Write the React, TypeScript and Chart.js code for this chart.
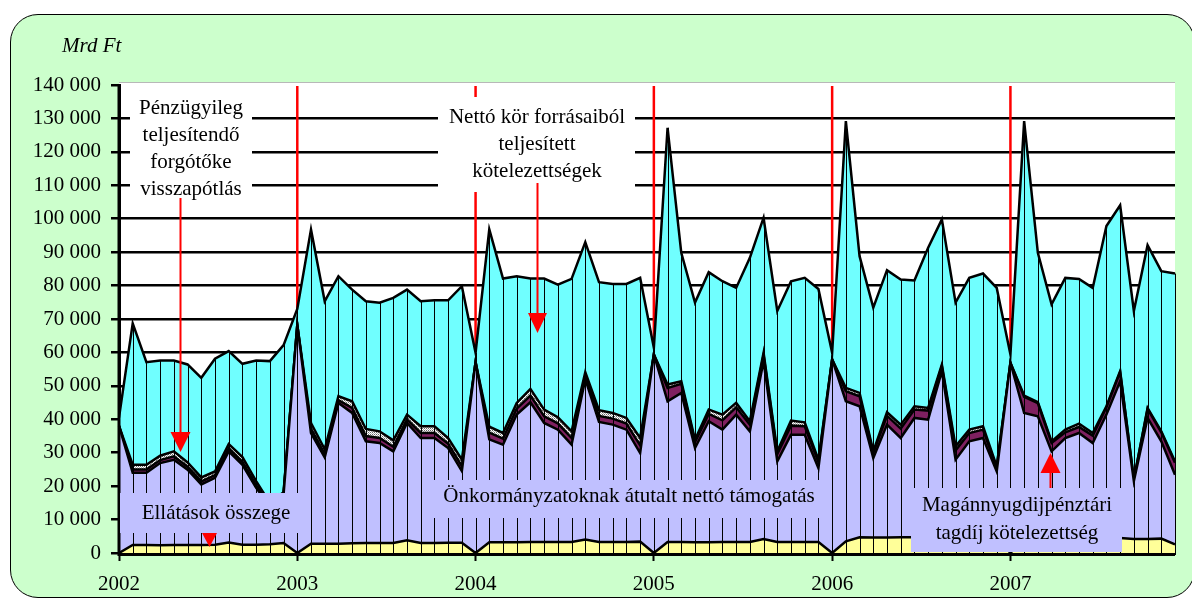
import React, { useEffect, useRef } from 'react';
import { Chart, registerables } from 'chart.js';

Chart.register(...registerables);

const FONT = '"Liberation Serif", "Times New Roman", serif';

// 13 points per year: a year-opening point, then 12 months
const years = ['2002', '2003', '2004', '2005', '2006', '2007'];
const categories: string[] = years.flatMap((y) => [y, '', '', '', '', '', '', '', '', '', '', '', '']);

const yTickLabels = ['0', '10 000', '20 000', '30 000', '40 000', '50 000', '60 000', '70 000', '80 000', '90 000', '100 000', '110 000', '120 000', '130 000', '140 000'];

// Ellátások összege
const ellatasok = [
  0, 2400, 2400, 2300, 2400, 2400, 2400, 2500, 3100, 2500, 2500, 2600, 3000,
  0, 2800, 2800, 2800, 2900, 3000, 3000, 3000, 3800, 3000, 3000, 3100, 3100,
  0, 3200, 3200, 3200, 3300, 3300, 3300, 3300, 4000, 3300, 3300, 3300, 3400,
  0, 3300, 3300, 3200, 3200, 3300, 3300, 3300, 4200, 3300, 3300, 3300, 3300,
  0, 3500, 4700, 4600, 4600, 4700, 4700, 4800, 5000, 4700, 4700, 4700, 4700,
  0, 4500, 4500, 4500, 4500, 4500, 4500, 4500, 4500, 4200, 4200, 4300, 2600,
];

// Önkormányzatoknak átutalt nettó támogatás
const onkormanyzat = [
  38000, 21600, 21600, 24600, 25500, 22500, 18100, 20000, 27300, 23900, 17000, 11400, 14500,
  68200, 33100, 25800, 42100, 39000, 30400, 29900, 27400, 35100, 31400, 31400, 28300, 21400,
  57100, 30800, 29200, 38200, 41800, 35600, 33600, 29100, 48000, 35900, 35100, 33600, 26500,
  59400, 42100, 44600, 28200, 36200, 33600, 38100, 33100, 53200, 24100, 32100, 32100, 22100,
  57900, 41900, 39200, 23800, 33800, 29700, 35700, 35100, 49400, 23200, 28700, 29700, 19700,
  56900, 37400, 36400, 25900, 29900, 31400, 28400, 36900, 46900, 17300, 36200, 29100, 20800,
];

// Magánnyugdíjpénztári tagdíj kötelezettség
const magannyugdij = [
  0, 1000, 1000, 900, 1000, 900, 900, 800, 900, 900, 800, 500, 400,
  0, 1300, 1000, 800, 1500, 1600, 1500, 1400, 1100, 1500, 1500, 1300, 1500,
  0, 2000, 1800, 1800, 2000, 2000, 1900, 2000, 1000, 1800, 1800, 1800, 2300,
  0, 4000, 2700, 1800, 2200, 2800, 2200, 2000, 1800, 2200, 2700, 2500, 1800,
  0, 3000, 3000, 1500, 2700, 2800, 2500, 2700, 1500, 2800, 2500, 2500, 1100,
  0, 4800, 3900, 2500, 1700, 1800, 2200, 2200, 2700, 400, 2700, 2700, 3600,
];

// Pénzügyileg teljesítendő forgótőke visszapótlás
const forgotoke = [
  0, 1400, 1400, 1300, 1500, 1300, 1200, 1100, 1300, 1400, 1200, 500, 300,
  0, 1700, 1400, 1200, 2000, 2100, 2000, 1900, 1400, 2000, 2000, 1700, 1900,
  0, 1800, 1700, 1700, 2000, 2000, 1800, 2000, 1100, 1700, 1700, 1700, 2200,
  0, 1000, 800, 700, 1300, 1700, 1300, 1000, 700, 800, 1500, 1200, 700,
  0, 1000, 1000, 500, 1000, 1200, 1000, 800, 500, 1200, 1000, 1000, 400,
  0, 400, 300, 500, 800, 1000, 800, 300, 300, 100, 300, 300, 400,
];

// Nettó kör forrásaiból teljesített kötelezettségek
const nettoKor = [
  2500, 42300, 30700, 28500, 27200, 29300, 29800, 33700, 27800, 27900, 36100, 42400, 44000,
  4800, 57900, 44300, 35900, 33400, 38200, 38500, 42600, 37400, 37400, 37700, 41200, 51900,
  2800, 59000, 46200, 37900, 33000, 39200, 39700, 45600, 38900, 38300, 38600, 40100, 47900,
  2000, 76800, 38400, 41000, 41100, 39900, 34400, 48900, 40400, 42000, 41700, 43200, 51100,
  2000, 79800, 40900, 43000, 42500, 43400, 37600, 47900, 43400, 43000, 45400, 45700, 53400,
  2500, 82100, 44700, 41000, 45400, 43300, 43400, 53900, 49600, 50400, 48700, 47900, 56200,
];

const COLORS = {
  yellow: '#FFFF99',
  lavender: '#C0C0FF',
  purple: '#7F2060',
  cyan: '#70FFFF',
  green: '#CCFFCC',
  red: '#FF0000',
};

function makePattern(): CanvasPattern | string {
  const c = document.createElement('canvas');
  c.width = 2;
  c.height = 2;
  const g = c.getContext('2d');
  if (!g) return '#bbbbbb';
  g.fillStyle = '#ffffff';
  g.fillRect(0, 0, 2, 2);
  g.fillStyle = '#6a6a6a';
  g.fillRect(0, 0, 1, 1);
  g.fillStyle = '#b0b0b0';
  g.fillRect(1, 1, 1, 1);
  return g.createPattern(c, 'repeat') || '#bbbbbb';
}

function textLines(ctx: CanvasRenderingContext2D, lines: string[], cx: number, firstBaseline: number, step: number) {
  lines.forEach((t, i) => ctx.fillText(t, cx, firstBaseline + i * step));
}

function arrow(ctx: CanvasRenderingContext2D, x: number, y0: number, yBase: number, yTip: number, half: number) {
  ctx.strokeStyle = COLORS.red;
  ctx.fillStyle = COLORS.red;
  ctx.lineWidth = 2;
  if (y0 !== yBase) {
    ctx.beginPath();
    ctx.moveTo(x, y0);
    ctx.lineTo(x, yBase);
    ctx.stroke();
  }
  ctx.beginPath();
  ctx.moveTo(x - half, yBase);
  ctx.lineTo(x + half, yBase);
  ctx.lineTo(x, yTip);
  ctx.closePath();
  ctx.fill();
}

const decor = {
  id: 'decor',
  beforeDraw(chart: any) {
    const { ctx, chartArea: a } = chart;
    ctx.save();
    ctx.fillStyle = '#ffffff';
    ctx.fillRect(a.left, a.top - 2, a.right - a.left, a.bottom - a.top + 2);
    ctx.strokeStyle = '#b8b8b8';
    ctx.lineWidth = 1;
    ctx.beginPath();
    ctx.moveTo(a.left, a.top - 2.5);
    ctx.lineTo(a.right, a.top - 2.5);
    ctx.stroke();
    ctx.restore();
  },
  beforeDatasetsDraw(chart: any) {
    const { ctx } = chart;
    const a = chart.chartArea;
    const top = chart.getDatasetMeta(chart.data.datasets.length - 1);
    ctx.save();
    ctx.strokeStyle = COLORS.red;
    ctx.lineWidth = 2.5;
    categories.forEach((lab, i) => {
      if (!lab || i === 0) return;
      const pt = top.data[i];
      ctx.beginPath();
      ctx.moveTo(pt.x, a.top + 1);
      ctx.lineTo(pt.x, pt.y);
      ctx.stroke();
    });
    ctx.restore();
  },
  afterDatasetsDraw(chart: any) {
    const { ctx } = chart;
    const a = chart.chartArea;
    const top = chart.getDatasetMeta(chart.data.datasets.length - 1);
    const yZero = chart.scales.y.getPixelForValue(0);
    ctx.save();
    ctx.strokeStyle = '#000';
    ctx.lineWidth = 1;
    top.data.forEach((pt: any) => {
      const x = Math.round(pt.x) + 0.5;
      ctx.beginPath();
      ctx.moveTo(x, pt.y);
      ctx.lineTo(x, yZero);
      ctx.stroke();
    });
    ctx.lineWidth = 3;
    ctx.beginPath();
    ctx.moveTo(a.left, a.top);
    ctx.lineTo(a.left, yZero + 1.5);
    ctx.lineTo(a.right, yZero + 1.5);
    ctx.stroke();
    ctx.restore();
  },
  afterDraw(chart: any) {
    const { ctx } = chart;
    ctx.save();
    // unit label
    ctx.fillStyle = '#000';
    ctx.font = `italic 21px ${FONT}`;
    ctx.textAlign = 'left';
    ctx.textBaseline = 'alphabetic';
    ctx.fillText('Mrd Ft', 62, 52);

    ctx.font = `21px ${FONT}`;
    ctx.textAlign = 'center';

    // white boxes
    ctx.fillStyle = '#ffffff';
    ctx.fillRect(130, 93, 122, 106);
    ctx.fillRect(438, 97, 197, 95);
    ctx.fillStyle = '#000';
    textLines(ctx, ['Pénzügyileg', 'teljesítendő', 'forgótőke', 'visszapótlás'], 191, 114, 27);
    textLines(ctx, ['Nettó kör forrásaiból', 'teljesített', 'kötelezettségek'], 537, 123, 27);

    // lavender boxes
    ctx.fillStyle = COLORS.lavender;
    ctx.fillRect(120, 493, 180, 40);
    ctx.fillRect(433, 480, 393, 38);
    ctx.fillRect(911, 488, 211, 64);
    ctx.fillStyle = '#000';
    ctx.fillText('Ellátások összege', 216, 518.5);
    ctx.fillText('Önkormányzatoknak átutalt nettó támogatás', 629, 502);
    textLines(ctx, ['Magánnyugdijpénztári', 'tagdíj kötelezettség'], 1017, 510.5, 28);

    // arrows
    arrow(ctx, 180.5, 198, 432, 452, 10);
    arrow(ctx, 537.5, 183, 313, 333, 9.5);
    arrow(ctx, 209.5, 533, 533, 547, 7.5);
    arrow(ctx, 1050.5, 488, 473, 453, 10);
    ctx.restore();
  },
};

export default function App() {
  const ref = useRef<HTMLCanvasElement>(null);

  useEffect(() => {
    const canvas = ref.current;
    if (!canvas) return;
    const pattern = makePattern();
    const ds = (label: string, data: number[], bg: any, fill: any) => ({
      label,
      data,
      backgroundColor: bg,
      borderColor: '#000',
      borderWidth: 2.5,
      pointRadius: 0,
      tension: 0,
      fill,
    });
    const chart = new Chart(canvas, {
      type: 'line',
      data: {
        labels: categories,
        datasets: [
          ds('Ellátások összege', ellatasok, COLORS.yellow, 'origin'),
          ds('Önkormányzatoknak átutalt nettó támogatás', onkormanyzat, COLORS.lavender, '-1'),
          ds('Magánnyugdíjpénztári tagdíj kötelezettség', magannyugdij, COLORS.purple, '-1'),
          ds('Pénzügyileg teljesítendő forgótőke visszapótlás', forgotoke, pattern, '-1'),
          ds('Nettó kör forrásaiból teljesített kötelezettségek', nettoKor, COLORS.cyan, '-1'),
        ],
      },
      options: {
        responsive: false,
        animation: false,
        layout: { padding: { left: 0, right: 17, top: 85, bottom: 0 } },
        plugins: { legend: { display: false }, tooltip: { enabled: false } },
        scales: {
          x: {
            type: 'category',
            offset: false,
            grid: {
              drawOnChartArea: false,
              drawTicks: true,
              tickLength: 8,
              tickWidth: 2,
              tickColor: (c: any) => (categories[c.index] ? '#000' : 'rgba(0,0,0,0)'),
            },
            border: { display: true, color: '#000', width: 3 },
            ticks: {
              autoSkip: false,
              maxRotation: 0,
              minRotation: 0,
              color: '#000',
              padding: 11,
              font: { family: FONT, size: 21 },
            },
            afterFit: (s: any) => {
              s.height = 46;
            },
          },
          y: {
            stacked: true,
            min: 0,
            max: 140000,
            ticks: {
              stepSize: 10000,
              color: '#000',
              padding: 10,
              font: { family: FONT, size: 21 },
              callback: (_v: any, i: number) => yTickLabels[i],
            },
            grid: {
              color: (c: any) => (c.tick && c.tick.value === 140000 ? 'rgba(0,0,0,0)' : '#000'),
              lineWidth: 2.5,
              drawTicks: true,
              tickLength: 8,
              tickColor: '#000',
              tickWidth: 2.5,
            },
            border: { display: true, color: '#000', width: 3 },
            afterFit: (s: any) => {
              s.width = 119;
            },
          },
        },
      } as any,
      plugins: [decor],
    });
    return () => chart.destroy();
  }, []);

  return (
    <div style={{ position: 'absolute', left: 0, top: 0, width: 1192, height: 599, overflow: 'hidden', background: '#fff' }}>
      <div
        style={{
          position: 'absolute',
          left: 10,
          top: 14,
          width: 1183,
          height: 582,
          background: COLORS.green,
          border: '1px solid #000',
          borderRadius: 28,
        }}
      />
      <canvas ref={ref} width={1192} height={599} style={{ position: 'absolute', left: 0, top: 0 }} />
    </div>
  );
}
